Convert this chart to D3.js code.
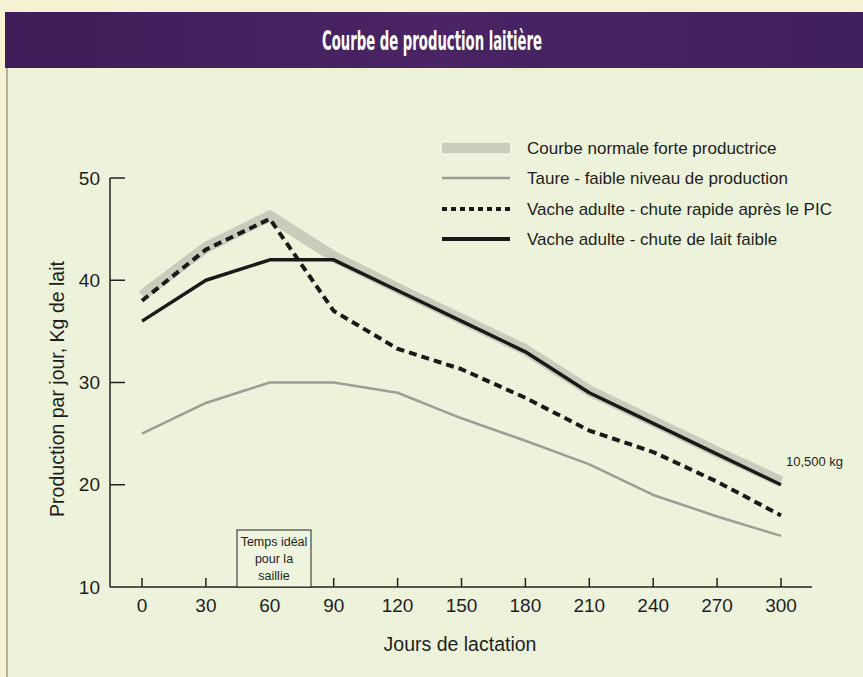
<!DOCTYPE html>
<html>
<head>
<meta charset="utf-8">
<script src="https://cdn.jsdelivr.net/npm/d3@7"></script>
<style>
  html, body { margin:0; padding:0; background:#f6f1d3; }
  svg { display:block; }
  text { font-family: "Liberation Sans", Arial, Helvetica, sans-serif; fill:#1e1e1e; }
</style>
</head>
<body>
<svg id="chart" width="863" height="677"></svg>
<script>
// data
const days = [0, 30, 60, 90, 120, 150, 180, 210, 240, 270, 300];
const normale = [38.5, 43.2, 46.3, 42.3, 39.2, 36.2, 33.2, 29.2, 26.2, 23.2, 20.3];
const taure = [25, 28, 30, 30, 29, 26.5, 24.3, 22, 19, 16.9, 15];
const chuteRapide = [38, 43, 46, 37, 33.3, 31.3, 28.5, 25.3, 23.2, 20.3, 17];
const chuteFaible = [36, 40, 42, 42, 39, 36, 33, 29, 26, 23, 20];
const yTicks = [10, 20, 30, 40, 50];
const legendLabels = [
  'Courbe normale forte productrice',
  'Taure - faible niveau de production',
  'Vache adulte - chute rapide après le PIC',
  'Vache adulte - chute de lait faible'
];

const W = 863, H = 677;
const svg = d3.select('#chart');

// background: cream margin, green panel, purple title band
svg.append('rect').attr('width', W).attr('height', H).attr('fill', '#f6f1d3');
svg.append('rect').attr('x', 6).attr('y', 68).attr('width', W - 6).attr('height', H - 68)
  .attr('fill', '#edf3da');
svg.append('line').attr('x1', 7).attr('x2', 7).attr('y1', 68).attr('y2', H)
  .attr('stroke', '#9a9a8c').attr('stroke-width', 1.5);

const defs = svg.append('defs');
const grad = defs.append('linearGradient').attr('id', 'band').attr('x1', 0).attr('x2', 1);
grad.append('stop').attr('offset', '0%').attr('stop-color', '#3f1d58');
grad.append('stop').attr('offset', '50%').attr('stop-color', '#4a2464');
grad.append('stop').attr('offset', '100%').attr('stop-color', '#40205c');
svg.append('rect').attr('x', 5).attr('y', 12).attr('width', W - 5).attr('height', 56)
  .attr('fill', 'url(#band)');
svg.append('text')
  .attr('x', 432).attr('y', 50)
  .attr('text-anchor', 'middle')
  .attr('textLength', 220).attr('lengthAdjust', 'spacingAndGlyphs')
  .style('font-family', '"Liberation Sans Narrow", "DejaVu Sans Condensed", "Liberation Sans", sans-serif')
  .style('font-weight', 'bold').style('font-size', '26px').style('fill', '#ffffff')
  .text('Courbe de production laitière');

// scales
const x = d3.scaleLinear().domain([0, 300]).range([142, 781]);
const y = d3.scaleLinear().domain([10, 50]).range([587, 178]);

// axes
const g = svg.append('g');
g.append('line').attr('x1', 110).attr('x2', 110).attr('y1', y(50)).attr('y2', y(10))
  .attr('stroke', '#222').attr('stroke-width', 1.5);
g.append('line').attr('x1', 110).attr('x2', 812).attr('y1', y(10)).attr('y2', y(10))
  .attr('stroke', '#222').attr('stroke-width', 1.5);

g.selectAll('.ytick').data(yTicks.filter(d => d > 10)).join('line')
  .attr('x1', 110).attr('x2', 125).attr('y1', d => y(d)).attr('y2', d => y(d))
  .attr('stroke', '#222').attr('stroke-width', 1.5);
g.selectAll('.ylab').data(yTicks).join('text')
  .attr('x', 100).attr('y', d => y(d)).attr('dy', '0.35em')
  .attr('text-anchor', 'end').style('font-size', '19px')
  .text(d => d);

g.selectAll('.xtick').data(days).join('line')
  .attr('x1', d => x(d)).attr('x2', d => x(d)).attr('y1', y(10)).attr('y2', y(10) - 9)
  .attr('stroke', '#222').attr('stroke-width', 1.5);
g.selectAll('.xlab').data(days).join('text')
  .attr('x', d => x(d)).attr('y', 612)
  .attr('text-anchor', 'middle').style('font-size', '19px')
  .text(d => d);

svg.append('text').attr('x', 460).attr('y', 651).attr('text-anchor', 'middle')
  .style('font-size', '19.5px').text('Jours de lactation');
svg.append('text')
  .attr('transform', 'translate(64,389) rotate(-90)')
  .attr('text-anchor', 'middle').style('font-size', '19.5px')
  .text('Production par jour,  Kg de lait');

// lines
const line = d3.line().x((d, i) => x(days[i])).y(d => y(d));
const plot = svg.append('g').attr('fill', 'none').attr('stroke-linejoin', 'round');
plot.append('path').datum(normale).attr('d', line)
  .attr('stroke', '#c9ccbb').attr('stroke-width', 11);
plot.append('path').datum(taure).attr('d', line)
  .attr('stroke', '#9c9e94').attr('stroke-width', 2.5);
plot.append('path').datum(chuteRapide).attr('d', line)
  .attr('stroke', '#1a1a1a').attr('stroke-width', 4).attr('stroke-dasharray', '8,5');
plot.append('path').datum(chuteFaible).attr('d', line)
  .attr('stroke', '#1a1a1a').attr('stroke-width', 3.5);

// annotations
svg.append('text').attr('x', 786).attr('y', 466).style('font-size', '13px')
  .text('10,500 kg');
const box = svg.append('g');
box.append('rect').attr('x', 237).attr('y', 530).attr('width', 74).attr('height', 57)
  .attr('fill', '#eef4dd').attr('stroke', '#222').attr('stroke-width', 1);
box.selectAll('text').data(['Temps idéal', 'pour la', 'saillie']).join('text')
  .attr('x', 274).attr('y', (d, i) => 546 + i * 17)
  .attr('text-anchor', 'middle').style('font-size', '12.5px')
  .text(d => d);

// legend
const legend = svg.append('g');
const legY = [148, 178, 209, 239];
const legStyle = [
  { stroke: '#c9ccbb', width: 10, dash: null },
  { stroke: '#9c9e94', width: 2.5, dash: null },
  { stroke: '#1a1a1a', width: 4, dash: '5,4' },
  { stroke: '#1a1a1a', width: 4, dash: null }
];
legendLabels.forEach((lab, i) => {
  legend.append('line').attr('x1', 442).attr('x2', 510).attr('y1', legY[i]).attr('y2', legY[i])
    .attr('stroke', legStyle[i].stroke).attr('stroke-width', legStyle[i].width)
    .attr('stroke-dasharray', legStyle[i].dash);
  legend.append('text').attr('x', 527).attr('y', legY[i]).attr('dy', '0.35em')
    .style('font-size', '17px').text(lab);
});
</script>
</body>
</html>
